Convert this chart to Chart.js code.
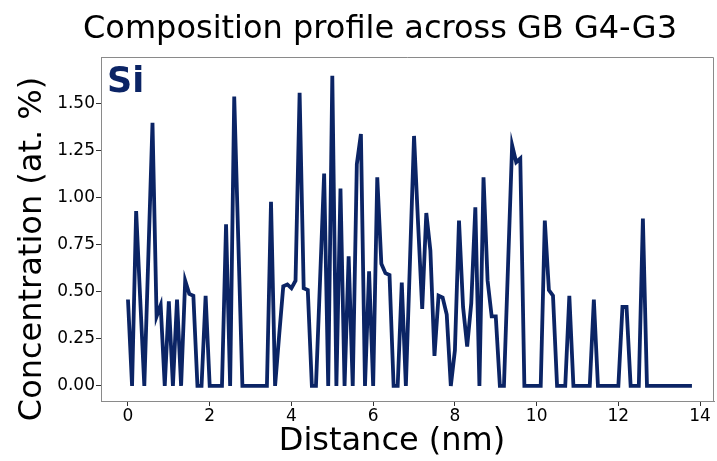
<!DOCTYPE html>
<html>
<head>
<meta charset="utf-8">
<script src="https://cdn.jsdelivr.net/npm/chart.js@4.4.1/dist/chart.umd.min.js"></script>
<style>
  html, body { margin: 0; padding: 0; background: #fff; }
  #wrap { width: 717px; height: 461px; }
</style>
</head>
<body>
<div id="wrap"><canvas id="chart" width="717" height="461"></canvas></div>
<script>
// distance along the profile (nm)
const distance = [
  0.0, 0.1, 0.2, 0.3, 0.4, 0.5, 0.6, 0.7, 0.8, 0.9,
  1.0, 1.1, 1.2, 1.3, 1.4, 1.5, 1.6, 1.7, 1.8, 1.9,
  2.0, 2.1, 2.2, 2.3, 2.4, 2.5, 2.6, 2.7, 2.8, 2.9,
  3.0, 3.1, 3.2, 3.3, 3.4, 3.5, 3.6, 3.7, 3.8, 3.9,
  4.0, 4.1, 4.2, 4.3, 4.4, 4.5, 4.6, 4.7, 4.8, 4.9,
  5.0, 5.1, 5.2, 5.3, 5.4, 5.5, 5.6, 5.7, 5.8, 5.9,
  6.0, 6.1, 6.2, 6.3, 6.4, 6.5, 6.6, 6.7, 6.8, 6.9,
  7.0, 7.1, 7.2, 7.3, 7.4, 7.5, 7.6, 7.7, 7.8, 7.9,
  8.0, 8.1, 8.2, 8.3, 8.4, 8.5, 8.6, 8.7, 8.8, 8.9,
  9.0, 9.1, 9.2, 9.3, 9.4, 9.5, 9.6, 9.7, 9.8, 9.9,
  10.0, 10.1, 10.2, 10.3, 10.4, 10.5, 10.6, 10.7, 10.8, 10.9,
  11.0, 11.1, 11.2, 11.3, 11.4, 11.5, 11.6, 11.7, 11.8, 11.9,
  12.0, 12.1, 12.2, 12.3, 12.4, 12.5, 12.6, 12.7, 12.8, 12.9,
  13.0, 13.1, 13.2, 13.3, 13.4, 13.5, 13.6, 13.7, 13.8
];

// Si concentration (at. %)
const siConc = [
  0.46, 0, 0.93, 0.46, 0, 0.70, 1.40, 0.37, 0.43, 0,
  0.45, 0, 0.46, 0, 0.56, 0.49, 0.48, 0, 0, 0.48,
  0, 0, 0, 0, 0.86, 0, 1.54, 0.77, 0, 0,
  0, 0, 0, 0, 0, 0.98, 0, 0.27, 0.53, 0.54,
  0.52, 0.56, 1.56, 0.52, 0.51, 0, 0, 0.56, 1.13, 0,
  1.65, 0, 1.05, 0, 0.69, 0, 1.18, 1.34, 0, 0.61,
  0, 1.11, 0.65, 0.60, 0.59, 0, 0, 0.55, 0, 0.66,
  1.33, 0.86, 0.41, 0.92, 0.72, 0.16, 0.48, 0.47, 0.38, 0,
  0.19, 0.88, 0.42, 0.21, 0.44, 0.95, 0, 1.11, 0.56, 0.37,
  0.37, 0, 0, 0.64, 1.28, 1.19, 1.21, 0, 0, 0,
  0, 0, 0.88, 0.51, 0.48, 0, 0, 0, 0.48, 0,
  0, 0, 0, 0, 0.46, 0, 0, 0, 0, 0,
  0, 0.42, 0.42, 0, 0, 0, 0.89, 0, 0, 0,
  0, 0, 0, 0, 0, 0, 0, 0, 0
];

const xTicks = [0, 2, 4, 6, 8, 10, 12, 14];
const yTicks = [0, 0.25, 0.5, 0.75, 1.0, 1.25, 1.5];

const navy = '#0b2465';
const spine = '#8a8a8a';
const font = "'DejaVu Sans', sans-serif";

// top + right spines, titles and the element label
const frame = {
  id: 'frame',
  afterDraw(c) {
    const {ctx, chartArea: a} = c;
    ctx.save();
    ctx.strokeStyle = spine;
    ctx.lineWidth = 1;
    ctx.beginPath();
    ctx.moveTo(a.left, a.top + 0.5);
    ctx.lineTo(a.right - 0.5, a.top + 0.5);
    ctx.lineTo(a.right - 0.5, a.bottom);
    ctx.stroke();

    ctx.fillStyle = navy;
    ctx.font = "bold 35px " + font;
    ctx.textBaseline = 'alphabetic';
    ctx.fillText('Si', a.left + 6, a.top + 35);

    ctx.fillStyle = '#000';
    ctx.textAlign = 'center';
    ctx.textBaseline = 'middle';
    ctx.font = "32px " + font;
    ctx.fillText('Composition profile across GB G4-G3', 380, 30);
    ctx.fillText('Distance (nm)', 392, 442);
    ctx.translate(33, 249);
    ctx.rotate(-Math.PI / 2);
    ctx.font = "32px " + font;
    ctx.fillText('Concentration (at. %)', 0, 0);
    ctx.restore();
  }
};

new Chart(document.getElementById('chart'), {
  type: 'line',
  data: {
    datasets: [{
      data: distance.map((d, i) => ({x: d, y: siConc[i]})),
      borderColor: navy,
      borderWidth: 3.8,
      pointRadius: 0,
      tension: 0,
      fill: false
    }]
  },
  options: {
    responsive: false,
    animation: false,
    layout: {padding: {left: 0, right: 3, top: 57, bottom: 0}},
    plugins: {
      legend: {display: false},
      tooltip: {enabled: false},
      title: {display: false}
    },
    scales: {
      x: {
        type: 'linear',
        min: -0.66,
        max: 14.34,
        afterBuildTicks: s => { s.ticks = xTicks.map(v => ({value: v})); },
        afterFit: s => { s.height = 60; },
        grid: {display: true, drawOnChartArea: false, drawTicks: true, tickLength: 5, color: '#333'},
        border: {display: true, color: spine},
        ticks: {color: '#000', font: {family: font, size: 17}, padding: 0, maxRotation: 0}
      },
      y: {
        type: 'linear',
        min: -0.08,
        max: 1.75,
        afterBuildTicks: s => { s.ticks = yTicks.map(v => ({value: v})); },
        afterFit: s => { s.width = 101; },
        grid: {display: true, drawOnChartArea: false, drawTicks: true, tickLength: 5, color: '#333'},
        border: {display: true, color: spine},
        ticks: {color: '#000', font: {family: font, size: 17}, padding: 1, callback: v => v.toFixed(2)}
      }
    }
  },
  plugins: [frame]
});
</script>
</body>
</html>
